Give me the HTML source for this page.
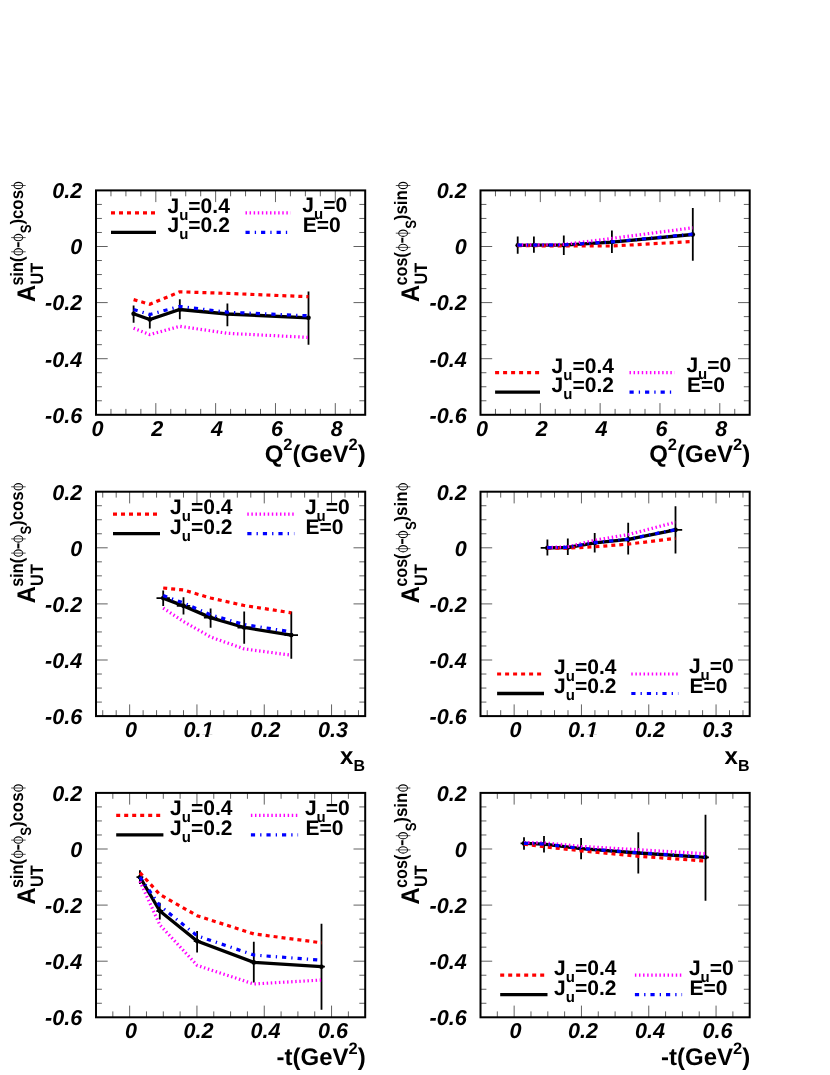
<!DOCTYPE html>
<html><head><meta charset="utf-8"><style>html,body{margin:0;padding:0;background:#fff}svg{display:block;will-change:transform}text{text-rendering:geometricPrecision}</style></head><body>
<svg width="830" height="1075" viewBox="0 0 830 1075">
<rect width="100%" height="100%" fill="#fff"/>
<g><path d="M110.96 414.80v-5.90 M110.96 190.40v5.90 M125.91 414.80v-5.90 M125.91 190.40v5.90 M140.87 414.80v-5.90 M140.87 190.40v5.90 M155.82 414.80v-11.70 M155.82 190.40v11.70 M170.78 414.80v-5.90 M170.78 190.40v5.90 M185.73 414.80v-5.90 M185.73 190.40v5.90 M200.69 414.80v-5.90 M200.69 190.40v5.90 M215.64 414.80v-11.70 M215.64 190.40v11.70 M230.60 414.80v-5.90 M230.60 190.40v5.90 M245.56 414.80v-5.90 M245.56 190.40v5.90 M260.51 414.80v-5.90 M260.51 190.40v5.90 M275.47 414.80v-11.70 M275.47 190.40v11.70 M290.42 414.80v-5.90 M290.42 190.40v5.90 M305.38 414.80v-5.90 M305.38 190.40v5.90 M320.33 414.80v-5.90 M320.33 190.40v5.90 M335.29 414.80v-11.70 M335.29 190.40v11.70 M350.24 414.80v-5.90 M350.24 190.40v5.90 M96.00 204.43h5.90 M365.20 204.43h-5.90 M96.00 218.45h5.90 M365.20 218.45h-5.90 M96.00 232.48h5.90 M365.20 232.48h-5.90 M96.00 246.50h11.70 M365.20 246.50h-11.70 M96.00 260.52h5.90 M365.20 260.52h-5.90 M96.00 274.55h5.90 M365.20 274.55h-5.90 M96.00 288.58h5.90 M365.20 288.58h-5.90 M96.00 302.60h11.70 M365.20 302.60h-11.70 M96.00 316.62h5.90 M365.20 316.62h-5.90 M96.00 330.65h5.90 M365.20 330.65h-5.90 M96.00 344.68h5.90 M365.20 344.68h-5.90 M96.00 358.70h11.70 M365.20 358.70h-11.70 M96.00 372.73h5.90 M365.20 372.73h-5.90 M96.00 386.75h5.90 M365.20 386.75h-5.90 M96.00 400.77h5.90 M365.20 400.77h-5.90" stroke="#000" stroke-opacity="0.62" stroke-width="1" fill="none"/>
<rect x="96.00" y="190.40" width="269.20" height="224.40" fill="none" stroke="#000" stroke-width="2"/>
<text x="82.2" y="198.2" font-family="Liberation Sans, sans-serif" font-size="21.6" font-weight="bold" font-style="italic" text-anchor="end">0.2</text>
<text x="82.2" y="254.3" font-family="Liberation Sans, sans-serif" font-size="21.6" font-weight="bold" font-style="italic" text-anchor="end">0</text>
<text x="82.2" y="310.4" font-family="Liberation Sans, sans-serif" font-size="21.6" font-weight="bold" font-style="italic" text-anchor="end">-0.2</text>
<text x="82.2" y="366.5" font-family="Liberation Sans, sans-serif" font-size="21.6" font-weight="bold" font-style="italic" text-anchor="end">-0.4</text>
<text x="82.2" y="422.6" font-family="Liberation Sans, sans-serif" font-size="21.6" font-weight="bold" font-style="italic" text-anchor="end">-0.6</text>
<text x="97.4" y="436.4" font-family="Liberation Sans, sans-serif" font-size="21.6" font-weight="bold" font-style="italic" text-anchor="middle">0</text>
<text x="157.2" y="436.4" font-family="Liberation Sans, sans-serif" font-size="21.6" font-weight="bold" font-style="italic" text-anchor="middle">2</text>
<text x="217.0" y="436.4" font-family="Liberation Sans, sans-serif" font-size="21.6" font-weight="bold" font-style="italic" text-anchor="middle">4</text>
<text x="276.9" y="436.4" font-family="Liberation Sans, sans-serif" font-size="21.6" font-weight="bold" font-style="italic" text-anchor="middle">6</text>
<text x="336.7" y="436.4" font-family="Liberation Sans, sans-serif" font-size="21.6" font-weight="bold" font-style="italic" text-anchor="middle">8</text>
<text x="365.7" y="462.0" font-family="Liberation Sans, sans-serif" font-size="24" font-weight="bold" text-anchor="end">Q<tspan font-size="16.5" dy="-11.8">2</tspan><tspan dy="11.8">(GeV</tspan><tspan font-size="16.5" dy="-11.8">2</tspan><tspan dy="11.8">)</tspan></text>
<text transform="translate(35.0 301.9) rotate(-90)" font-family="Liberation Sans, sans-serif" font-size="25.5" font-weight="bold" textLength="17.2" lengthAdjust="spacingAndGlyphs">A</text>
<text transform="translate(42.6 284.6) rotate(-90)" font-family="Liberation Sans, sans-serif" font-size="18" font-weight="bold" textLength="21.8" lengthAdjust="spacingAndGlyphs">UT</text>
<text transform="translate(22.7 285.4) rotate(-90)" font-family="Liberation Sans, sans-serif" font-size="18" font-weight="bold" textLength="28.8" lengthAdjust="spacingAndGlyphs">sin(</text>
<path fill-rule="evenodd" fill="#000" d="M13.55 251.80a4.85 3.75 0 1 0 9.7 0a4.85 3.75 0 1 0 -9.7 0ZM14.40 251.80a4.0 2.55 0 1 0 8.0 0a4.0 2.55 0 1 0 -8.0 0Z"/><path d="M11.1 251.8H25.7" stroke="#000" stroke-opacity="0.8" stroke-width="0.85"/>
<text transform="translate(22.7 247.9) rotate(-90)" font-family="Liberation Sans, sans-serif" font-size="18" font-weight="bold" textLength="6.6" lengthAdjust="spacingAndGlyphs">-</text>
<path fill-rule="evenodd" fill="#000" d="M13.55 237.60a4.85 3.75 0 1 0 9.7 0a4.85 3.75 0 1 0 -9.7 0ZM14.40 237.60a4.0 2.55 0 1 0 8.0 0a4.0 2.55 0 1 0 -8.0 0Z"/><path d="M11.1 237.6H25.7" stroke="#000" stroke-opacity="0.8" stroke-width="0.85"/>
<text transform="translate(31.3 233.2) rotate(-90)" font-family="Liberation Sans, sans-serif" font-size="15" font-weight="bold" textLength="8.8" lengthAdjust="spacingAndGlyphs">S</text>
<text transform="translate(22.7 224.6) rotate(-90)" font-family="Liberation Sans, sans-serif" font-size="18" font-weight="bold" textLength="34.6" lengthAdjust="spacingAndGlyphs">)cos</text>
<path fill-rule="evenodd" fill="#000" d="M13.55 185.50a4.85 3.75 0 1 0 9.7 0a4.85 3.75 0 1 0 -9.7 0ZM14.40 185.50a4.0 2.55 0 1 0 8.0 0a4.0 2.55 0 1 0 -8.0 0Z"/><path d="M11.1 185.5H25.7" stroke="#000" stroke-opacity="0.8" stroke-width="0.85"/>
<polyline points="111.0,212.9 156.0,212.9" fill="none" stroke="#ff0000" stroke-width="3.2" stroke-dasharray="4 4" stroke-linejoin="miter"/>
<polyline points="111.0,232.4 156.0,232.4" fill="none" stroke="#000" stroke-width="3.3" stroke-linejoin="miter"/>
<polyline points="245.5,212.9 290.6,212.9" fill="none" stroke="#ff00ff" stroke-width="3.2" stroke-dasharray="1.45 2.635" stroke-linejoin="miter"/>
<polyline points="245.5,232.4 290.6,232.4" fill="none" stroke="#0000ff" stroke-width="3.2" stroke-dasharray="4.2 5.05 1.3 5.0" stroke-linejoin="miter"/>
<text x="167.5" y="212.9" font-family="Liberation Sans, sans-serif" font-size="21" font-weight="bold">J<tspan font-size="15" dy="7">u</tspan><tspan dy="-7">=0.4</tspan></text>
<text x="167.5" y="232.2" font-family="Liberation Sans, sans-serif" font-size="21" font-weight="bold">J<tspan font-size="15" dy="7">u</tspan><tspan dy="-7">=0.2</tspan></text>
<text x="302.3" y="212.3" font-family="Liberation Sans, sans-serif" font-size="21" font-weight="bold">J<tspan font-size="15" dy="7">u</tspan><tspan dy="-7">=0</tspan></text>
<text x="302.8" y="232.2" font-family="Liberation Sans, sans-serif" font-size="21" font-weight="bold">E=0</text>
<path d="M133.6 305.4V322.7 M149.8 313.5V328.6 M179.8 299.3V319.2 M227.4 303.6V326.3 M308.5 291.5V344.8" stroke="#000" stroke-width="1.8" fill="none"/>
<circle cx="133.6" cy="313.7" r="2.3" fill="#000"/>
<circle cx="149.8" cy="319.5" r="2.3" fill="#000"/>
<circle cx="179.8" cy="309.5" r="2.3" fill="#000"/>
<circle cx="227.4" cy="314.0" r="2.3" fill="#000"/>
<circle cx="308.5" cy="317.8" r="2.3" fill="#000"/>
<polyline points="133.6,313.7 149.8,319.5 179.8,309.5 227.4,314.0 308.5,317.8" fill="none" stroke="#000" stroke-width="3.3" stroke-linejoin="miter"/>
<polyline points="133.6,299.6 149.8,304.3 179.8,291.8 227.4,293.4 308.5,296.7" fill="none" stroke="#ff0000" stroke-width="3.2" stroke-dasharray="4 4" stroke-linejoin="miter"/>
<polyline points="133.6,328.3 149.8,334.6 179.8,326.3 227.4,333.3 308.5,337.4" fill="none" stroke="#ff00ff" stroke-width="3.2" stroke-dasharray="1.45 2.635" stroke-linejoin="miter"/>
<polyline points="133.6,309.5 149.8,314.5 179.8,306.4 227.4,312.2 308.5,315.8" fill="none" stroke="#0000ff" stroke-width="3.2" stroke-dasharray="4.2 5.05 1.3 5.0" stroke-linejoin="miter"/></g>
<g><path d="M495.46 414.80v-5.90 M495.46 190.40v5.90 M510.41 414.80v-5.90 M510.41 190.40v5.90 M525.37 414.80v-5.90 M525.37 190.40v5.90 M540.32 414.80v-11.70 M540.32 190.40v11.70 M555.28 414.80v-5.90 M555.28 190.40v5.90 M570.23 414.80v-5.90 M570.23 190.40v5.90 M585.19 414.80v-5.90 M585.19 190.40v5.90 M600.14 414.80v-11.70 M600.14 190.40v11.70 M615.10 414.80v-5.90 M615.10 190.40v5.90 M630.06 414.80v-5.90 M630.06 190.40v5.90 M645.01 414.80v-5.90 M645.01 190.40v5.90 M659.97 414.80v-11.70 M659.97 190.40v11.70 M674.92 414.80v-5.90 M674.92 190.40v5.90 M689.88 414.80v-5.90 M689.88 190.40v5.90 M704.83 414.80v-5.90 M704.83 190.40v5.90 M719.79 414.80v-11.70 M719.79 190.40v11.70 M734.74 414.80v-5.90 M734.74 190.40v5.90 M480.50 204.43h5.90 M749.70 204.43h-5.90 M480.50 218.45h5.90 M749.70 218.45h-5.90 M480.50 232.48h5.90 M749.70 232.48h-5.90 M480.50 246.50h11.70 M749.70 246.50h-11.70 M480.50 260.52h5.90 M749.70 260.52h-5.90 M480.50 274.55h5.90 M749.70 274.55h-5.90 M480.50 288.58h5.90 M749.70 288.58h-5.90 M480.50 302.60h11.70 M749.70 302.60h-11.70 M480.50 316.62h5.90 M749.70 316.62h-5.90 M480.50 330.65h5.90 M749.70 330.65h-5.90 M480.50 344.68h5.90 M749.70 344.68h-5.90 M480.50 358.70h11.70 M749.70 358.70h-11.70 M480.50 372.73h5.90 M749.70 372.73h-5.90 M480.50 386.75h5.90 M749.70 386.75h-5.90 M480.50 400.77h5.90 M749.70 400.77h-5.90" stroke="#000" stroke-opacity="0.62" stroke-width="1" fill="none"/>
<rect x="480.50" y="190.40" width="269.20" height="224.40" fill="none" stroke="#000" stroke-width="2"/>
<text x="466.7" y="198.2" font-family="Liberation Sans, sans-serif" font-size="21.6" font-weight="bold" font-style="italic" text-anchor="end">0.2</text>
<text x="466.7" y="254.3" font-family="Liberation Sans, sans-serif" font-size="21.6" font-weight="bold" font-style="italic" text-anchor="end">0</text>
<text x="466.7" y="310.4" font-family="Liberation Sans, sans-serif" font-size="21.6" font-weight="bold" font-style="italic" text-anchor="end">-0.2</text>
<text x="466.7" y="366.5" font-family="Liberation Sans, sans-serif" font-size="21.6" font-weight="bold" font-style="italic" text-anchor="end">-0.4</text>
<text x="466.7" y="422.6" font-family="Liberation Sans, sans-serif" font-size="21.6" font-weight="bold" font-style="italic" text-anchor="end">-0.6</text>
<text x="481.9" y="436.4" font-family="Liberation Sans, sans-serif" font-size="21.6" font-weight="bold" font-style="italic" text-anchor="middle">0</text>
<text x="541.7" y="436.4" font-family="Liberation Sans, sans-serif" font-size="21.6" font-weight="bold" font-style="italic" text-anchor="middle">2</text>
<text x="601.5" y="436.4" font-family="Liberation Sans, sans-serif" font-size="21.6" font-weight="bold" font-style="italic" text-anchor="middle">4</text>
<text x="661.4" y="436.4" font-family="Liberation Sans, sans-serif" font-size="21.6" font-weight="bold" font-style="italic" text-anchor="middle">6</text>
<text x="721.2" y="436.4" font-family="Liberation Sans, sans-serif" font-size="21.6" font-weight="bold" font-style="italic" text-anchor="middle">8</text>
<text x="750.2" y="462.0" font-family="Liberation Sans, sans-serif" font-size="24" font-weight="bold" text-anchor="end">Q<tspan font-size="16.5" dy="-11.8">2</tspan><tspan dy="11.8">(GeV</tspan><tspan font-size="16.5" dy="-11.8">2</tspan><tspan dy="11.8">)</tspan></text>
<text transform="translate(419.2 301.9) rotate(-90)" font-family="Liberation Sans, sans-serif" font-size="25.5" font-weight="bold" textLength="17.2" lengthAdjust="spacingAndGlyphs">A</text>
<text transform="translate(426.8 284.6) rotate(-90)" font-family="Liberation Sans, sans-serif" font-size="18" font-weight="bold" textLength="21.8" lengthAdjust="spacingAndGlyphs">UT</text>
<text transform="translate(407.4 285.4) rotate(-90)" font-family="Liberation Sans, sans-serif" font-size="18" font-weight="bold" textLength="33.2" lengthAdjust="spacingAndGlyphs">cos(</text>
<path fill-rule="evenodd" fill="#000" d="M398.25 247.40a4.85 3.75 0 1 0 9.7 0a4.85 3.75 0 1 0 -9.7 0ZM399.10 247.40a4.0 2.55 0 1 0 8.0 0a4.0 2.55 0 1 0 -8.0 0Z"/><path d="M395.8 247.4H410.4" stroke="#000" stroke-opacity="0.8" stroke-width="0.85"/>
<text transform="translate(407.4 243.5) rotate(-90)" font-family="Liberation Sans, sans-serif" font-size="18" font-weight="bold" textLength="6.6" lengthAdjust="spacingAndGlyphs">-</text>
<path fill-rule="evenodd" fill="#000" d="M398.25 233.20a4.85 3.75 0 1 0 9.7 0a4.85 3.75 0 1 0 -9.7 0ZM399.10 233.20a4.0 2.55 0 1 0 8.0 0a4.0 2.55 0 1 0 -8.0 0Z"/><path d="M395.8 233.2H410.4" stroke="#000" stroke-opacity="0.8" stroke-width="0.85"/>
<text transform="translate(416.0 228.8) rotate(-90)" font-family="Liberation Sans, sans-serif" font-size="15" font-weight="bold" textLength="8.8" lengthAdjust="spacingAndGlyphs">S</text>
<text transform="translate(407.4 220.2) rotate(-90)" font-family="Liberation Sans, sans-serif" font-size="18" font-weight="bold" textLength="30.0" lengthAdjust="spacingAndGlyphs">)sin</text>
<path fill-rule="evenodd" fill="#000" d="M398.25 185.50a4.85 3.75 0 1 0 9.7 0a4.85 3.75 0 1 0 -9.7 0ZM399.10 185.50a4.0 2.55 0 1 0 8.0 0a4.0 2.55 0 1 0 -8.0 0Z"/><path d="M395.8 185.5H410.4" stroke="#000" stroke-opacity="0.8" stroke-width="0.85"/>
<polyline points="495.1,372.7 540.0,372.7" fill="none" stroke="#ff0000" stroke-width="3.2" stroke-dasharray="4 4" stroke-linejoin="miter"/>
<polyline points="495.1,392.2 540.0,392.2" fill="none" stroke="#000" stroke-width="3.3" stroke-linejoin="miter"/>
<polyline points="629.5,372.7 674.6,372.7" fill="none" stroke="#ff00ff" stroke-width="3.2" stroke-dasharray="1.45 2.635" stroke-linejoin="miter"/>
<polyline points="629.5,392.2 674.6,392.2" fill="none" stroke="#0000ff" stroke-width="3.2" stroke-dasharray="4.2 5.05 1.3 5.0" stroke-linejoin="miter"/>
<text x="551.6" y="372.7" font-family="Liberation Sans, sans-serif" font-size="21" font-weight="bold">J<tspan font-size="15" dy="7">u</tspan><tspan dy="-7">=0.4</tspan></text>
<text x="551.6" y="392.0" font-family="Liberation Sans, sans-serif" font-size="21" font-weight="bold">J<tspan font-size="15" dy="7">u</tspan><tspan dy="-7">=0.2</tspan></text>
<text x="686.4" y="372.1" font-family="Liberation Sans, sans-serif" font-size="21" font-weight="bold">J<tspan font-size="15" dy="7">u</tspan><tspan dy="-7">=0</tspan></text>
<text x="686.9" y="392.0" font-family="Liberation Sans, sans-serif" font-size="21" font-weight="bold">E=0</text>
<path d="M517.7 236.4V253.7 M533.9 236.4V252.7 M563.8 235.4V254.9 M611.9 230.5V253.0 M692.8 208.0V260.7" stroke="#000" stroke-width="1.8" fill="none"/>
<circle cx="517.7" cy="245.3" r="2.3" fill="#000"/>
<circle cx="533.9" cy="245.2" r="2.3" fill="#000"/>
<circle cx="563.8" cy="245.2" r="2.3" fill="#000"/>
<circle cx="611.9" cy="242.1" r="2.3" fill="#000"/>
<circle cx="692.8" cy="234.5" r="2.3" fill="#000"/>
<polyline points="517.7,245.3 533.9,245.2 563.8,245.2 611.9,242.1 692.8,234.5" fill="none" stroke="#000" stroke-width="3.3" stroke-linejoin="miter"/>
<polyline points="517.7,245.7 533.9,245.7 563.8,246.0 611.9,246.0 692.8,241.5" fill="none" stroke="#ff0000" stroke-width="3.2" stroke-dasharray="4 4" stroke-linejoin="miter"/>
<polyline points="517.7,245.0 533.9,244.9 563.8,244.4 611.9,238.4 692.8,227.8" fill="none" stroke="#ff00ff" stroke-width="3.2" stroke-dasharray="1.45 2.635" stroke-linejoin="miter"/>
<polyline points="517.7,245.2 533.9,245.1 563.8,245.0 611.9,241.9 692.8,234.1" fill="none" stroke="#0000ff" stroke-width="3.2" stroke-dasharray="4.2 5.05 1.3 5.0" stroke-linejoin="miter"/></g>
<g><path d="M102.73 716.10v-5.90 M102.73 491.70v5.90 M116.19 716.10v-5.90 M116.19 491.70v5.90 M129.65 716.10v-11.70 M129.65 491.70v11.70 M143.11 716.10v-5.90 M143.11 491.70v5.90 M156.57 716.10v-5.90 M156.57 491.70v5.90 M170.03 716.10v-5.90 M170.03 491.70v5.90 M183.49 716.10v-5.90 M183.49 491.70v5.90 M196.95 716.10v-11.70 M196.95 491.70v11.70 M210.41 716.10v-5.90 M210.41 491.70v5.90 M223.87 716.10v-5.90 M223.87 491.70v5.90 M237.33 716.10v-5.90 M237.33 491.70v5.90 M250.79 716.10v-5.90 M250.79 491.70v5.90 M264.25 716.10v-11.70 M264.25 491.70v11.70 M277.71 716.10v-5.90 M277.71 491.70v5.90 M291.17 716.10v-5.90 M291.17 491.70v5.90 M304.63 716.10v-5.90 M304.63 491.70v5.90 M318.09 716.10v-5.90 M318.09 491.70v5.90 M331.55 716.10v-11.70 M331.55 491.70v11.70 M345.01 716.10v-5.90 M345.01 491.70v5.90 M358.47 716.10v-5.90 M358.47 491.70v5.90 M96.00 505.72h5.90 M365.20 505.72h-5.90 M96.00 519.75h5.90 M365.20 519.75h-5.90 M96.00 533.77h5.90 M365.20 533.77h-5.90 M96.00 547.80h11.70 M365.20 547.80h-11.70 M96.00 561.83h5.90 M365.20 561.83h-5.90 M96.00 575.85h5.90 M365.20 575.85h-5.90 M96.00 589.88h5.90 M365.20 589.88h-5.90 M96.00 603.90h11.70 M365.20 603.90h-11.70 M96.00 617.92h5.90 M365.20 617.92h-5.90 M96.00 631.95h5.90 M365.20 631.95h-5.90 M96.00 645.98h5.90 M365.20 645.98h-5.90 M96.00 660.00h11.70 M365.20 660.00h-11.70 M96.00 674.02h5.90 M365.20 674.02h-5.90 M96.00 688.05h5.90 M365.20 688.05h-5.90 M96.00 702.08h5.90 M365.20 702.08h-5.90" stroke="#000" stroke-opacity="0.62" stroke-width="1" fill="none"/>
<rect x="96.00" y="491.70" width="269.20" height="224.40" fill="none" stroke="#000" stroke-width="2"/>
<text x="82.2" y="499.5" font-family="Liberation Sans, sans-serif" font-size="21.6" font-weight="bold" font-style="italic" text-anchor="end">0.2</text>
<text x="82.2" y="555.6" font-family="Liberation Sans, sans-serif" font-size="21.6" font-weight="bold" font-style="italic" text-anchor="end">0</text>
<text x="82.2" y="611.7" font-family="Liberation Sans, sans-serif" font-size="21.6" font-weight="bold" font-style="italic" text-anchor="end">-0.2</text>
<text x="82.2" y="667.8" font-family="Liberation Sans, sans-serif" font-size="21.6" font-weight="bold" font-style="italic" text-anchor="end">-0.4</text>
<text x="82.2" y="723.9" font-family="Liberation Sans, sans-serif" font-size="21.6" font-weight="bold" font-style="italic" text-anchor="end">-0.6</text>
<text x="131.1" y="737.3" font-family="Liberation Sans, sans-serif" font-size="21.6" font-weight="bold" font-style="italic" text-anchor="middle">0</text>
<text x="198.4" y="737.3" font-family="Liberation Sans, sans-serif" font-size="21.6" font-weight="bold" font-style="italic" text-anchor="middle">0.1</text>
<text x="265.6" y="737.3" font-family="Liberation Sans, sans-serif" font-size="21.6" font-weight="bold" font-style="italic" text-anchor="middle">0.2</text>
<text x="332.9" y="737.3" font-family="Liberation Sans, sans-serif" font-size="21.6" font-weight="bold" font-style="italic" text-anchor="middle">0.3</text>
<rect x="201.35" y="734.30" width="3.8" height="3.8" fill="#fff"/>
<rect x="208.55" y="734.30" width="4.6" height="3.8" fill="#fff"/>
<text x="365.0" y="763.8" font-family="Liberation Sans, sans-serif" font-size="24" font-weight="bold" text-anchor="end">x<tspan font-size="16" dy="6.9">B</tspan></text>
<text transform="translate(35.0 603.2) rotate(-90)" font-family="Liberation Sans, sans-serif" font-size="25.5" font-weight="bold" textLength="17.2" lengthAdjust="spacingAndGlyphs">A</text>
<text transform="translate(42.6 585.9) rotate(-90)" font-family="Liberation Sans, sans-serif" font-size="18" font-weight="bold" textLength="21.8" lengthAdjust="spacingAndGlyphs">UT</text>
<text transform="translate(22.7 586.7) rotate(-90)" font-family="Liberation Sans, sans-serif" font-size="18" font-weight="bold" textLength="28.8" lengthAdjust="spacingAndGlyphs">sin(</text>
<path fill-rule="evenodd" fill="#000" d="M13.55 553.10a4.85 3.75 0 1 0 9.7 0a4.85 3.75 0 1 0 -9.7 0ZM14.40 553.10a4.0 2.55 0 1 0 8.0 0a4.0 2.55 0 1 0 -8.0 0Z"/><path d="M11.1 553.1H25.7" stroke="#000" stroke-opacity="0.8" stroke-width="0.85"/>
<text transform="translate(22.7 549.2) rotate(-90)" font-family="Liberation Sans, sans-serif" font-size="18" font-weight="bold" textLength="6.6" lengthAdjust="spacingAndGlyphs">-</text>
<path fill-rule="evenodd" fill="#000" d="M13.55 538.90a4.85 3.75 0 1 0 9.7 0a4.85 3.75 0 1 0 -9.7 0ZM14.40 538.90a4.0 2.55 0 1 0 8.0 0a4.0 2.55 0 1 0 -8.0 0Z"/><path d="M11.1 538.9H25.7" stroke="#000" stroke-opacity="0.8" stroke-width="0.85"/>
<text transform="translate(31.3 534.5) rotate(-90)" font-family="Liberation Sans, sans-serif" font-size="15" font-weight="bold" textLength="8.8" lengthAdjust="spacingAndGlyphs">S</text>
<text transform="translate(22.7 525.9) rotate(-90)" font-family="Liberation Sans, sans-serif" font-size="18" font-weight="bold" textLength="34.6" lengthAdjust="spacingAndGlyphs">)cos</text>
<path fill-rule="evenodd" fill="#000" d="M13.55 486.80a4.85 3.75 0 1 0 9.7 0a4.85 3.75 0 1 0 -9.7 0ZM14.40 486.80a4.0 2.55 0 1 0 8.0 0a4.0 2.55 0 1 0 -8.0 0Z"/><path d="M11.1 486.8H25.7" stroke="#000" stroke-opacity="0.8" stroke-width="0.85"/>
<polyline points="113.0,514.2 160.0,514.2" fill="none" stroke="#ff0000" stroke-width="3.2" stroke-dasharray="4 4" stroke-linejoin="miter"/>
<polyline points="113.0,533.7 160.0,533.7" fill="none" stroke="#000" stroke-width="3.3" stroke-linejoin="miter"/>
<polyline points="247.3,514.2 294.3,514.2" fill="none" stroke="#ff00ff" stroke-width="3.2" stroke-dasharray="1.45 2.635" stroke-linejoin="miter"/>
<polyline points="247.3,533.7 294.3,533.7" fill="none" stroke="#0000ff" stroke-width="3.2" stroke-dasharray="4.2 5.05 1.3 5.0" stroke-linejoin="miter"/>
<text x="170.1" y="514.2" font-family="Liberation Sans, sans-serif" font-size="21" font-weight="bold">J<tspan font-size="15" dy="7">u</tspan><tspan dy="-7">=0.4</tspan></text>
<text x="170.1" y="533.5" font-family="Liberation Sans, sans-serif" font-size="21" font-weight="bold">J<tspan font-size="15" dy="7">u</tspan><tspan dy="-7">=0.2</tspan></text>
<text x="304.9" y="513.6" font-family="Liberation Sans, sans-serif" font-size="21" font-weight="bold">J<tspan font-size="15" dy="7">u</tspan><tspan dy="-7">=0</tspan></text>
<text x="305.4" y="533.5" font-family="Liberation Sans, sans-serif" font-size="21" font-weight="bold">E=0</text>
<path d="M163.2 590.5V605.9 M156.5 598.1H169.9 M183.5 597.2V614.6 M176.8 605.9H190.2 M210.6 608.6V627.8 M203.9 617.6H217.3 M244.2 611.5V643.8 M237.5 627.5H250.9 M291.3 611.5V658.8 M284.6 635.1H298.0" stroke="#000" stroke-width="1.8" fill="none"/>
<circle cx="163.2" cy="598.1" r="2.3" fill="#000"/>
<circle cx="183.5" cy="605.9" r="2.3" fill="#000"/>
<circle cx="210.6" cy="617.6" r="2.3" fill="#000"/>
<circle cx="244.2" cy="627.5" r="2.3" fill="#000"/>
<circle cx="291.3" cy="635.1" r="2.3" fill="#000"/>
<polyline points="163.2,598.1 183.5,605.9 210.6,617.6 244.2,627.5 291.3,635.1" fill="none" stroke="#000" stroke-width="3.3" stroke-linejoin="miter"/>
<polyline points="163.2,588.0 183.5,590.0 210.6,598.0 244.2,605.5 291.3,612.8" fill="none" stroke="#ff0000" stroke-width="3.2" stroke-dasharray="4 4" stroke-linejoin="miter"/>
<polyline points="163.2,608.1 183.5,621.5 210.6,637.0 244.2,648.9 291.3,655.2" fill="none" stroke="#ff00ff" stroke-width="3.2" stroke-dasharray="1.45 2.635" stroke-linejoin="miter"/>
<polyline points="163.2,595.6 183.5,603.0 210.6,614.8 244.2,624.5 291.3,631.9" fill="none" stroke="#0000ff" stroke-width="3.2" stroke-dasharray="4.2 5.05 1.3 5.0" stroke-linejoin="miter"/></g>
<g><path d="M487.23 716.10v-5.90 M487.23 491.70v5.90 M500.69 716.10v-5.90 M500.69 491.70v5.90 M514.15 716.10v-11.70 M514.15 491.70v11.70 M527.61 716.10v-5.90 M527.61 491.70v5.90 M541.07 716.10v-5.90 M541.07 491.70v5.90 M554.53 716.10v-5.90 M554.53 491.70v5.90 M567.99 716.10v-5.90 M567.99 491.70v5.90 M581.45 716.10v-11.70 M581.45 491.70v11.70 M594.91 716.10v-5.90 M594.91 491.70v5.90 M608.37 716.10v-5.90 M608.37 491.70v5.90 M621.83 716.10v-5.90 M621.83 491.70v5.90 M635.29 716.10v-5.90 M635.29 491.70v5.90 M648.75 716.10v-11.70 M648.75 491.70v11.70 M662.21 716.10v-5.90 M662.21 491.70v5.90 M675.67 716.10v-5.90 M675.67 491.70v5.90 M689.13 716.10v-5.90 M689.13 491.70v5.90 M702.59 716.10v-5.90 M702.59 491.70v5.90 M716.05 716.10v-11.70 M716.05 491.70v11.70 M729.51 716.10v-5.90 M729.51 491.70v5.90 M742.97 716.10v-5.90 M742.97 491.70v5.90 M480.50 505.72h5.90 M749.70 505.72h-5.90 M480.50 519.75h5.90 M749.70 519.75h-5.90 M480.50 533.77h5.90 M749.70 533.77h-5.90 M480.50 547.80h11.70 M749.70 547.80h-11.70 M480.50 561.83h5.90 M749.70 561.83h-5.90 M480.50 575.85h5.90 M749.70 575.85h-5.90 M480.50 589.88h5.90 M749.70 589.88h-5.90 M480.50 603.90h11.70 M749.70 603.90h-11.70 M480.50 617.92h5.90 M749.70 617.92h-5.90 M480.50 631.95h5.90 M749.70 631.95h-5.90 M480.50 645.98h5.90 M749.70 645.98h-5.90 M480.50 660.00h11.70 M749.70 660.00h-11.70 M480.50 674.02h5.90 M749.70 674.02h-5.90 M480.50 688.05h5.90 M749.70 688.05h-5.90 M480.50 702.08h5.90 M749.70 702.08h-5.90" stroke="#000" stroke-opacity="0.62" stroke-width="1" fill="none"/>
<rect x="480.50" y="491.70" width="269.20" height="224.40" fill="none" stroke="#000" stroke-width="2"/>
<text x="466.7" y="499.5" font-family="Liberation Sans, sans-serif" font-size="21.6" font-weight="bold" font-style="italic" text-anchor="end">0.2</text>
<text x="466.7" y="555.6" font-family="Liberation Sans, sans-serif" font-size="21.6" font-weight="bold" font-style="italic" text-anchor="end">0</text>
<text x="466.7" y="611.7" font-family="Liberation Sans, sans-serif" font-size="21.6" font-weight="bold" font-style="italic" text-anchor="end">-0.2</text>
<text x="466.7" y="667.8" font-family="Liberation Sans, sans-serif" font-size="21.6" font-weight="bold" font-style="italic" text-anchor="end">-0.4</text>
<text x="466.7" y="723.9" font-family="Liberation Sans, sans-serif" font-size="21.6" font-weight="bold" font-style="italic" text-anchor="end">-0.6</text>
<text x="515.5" y="737.3" font-family="Liberation Sans, sans-serif" font-size="21.6" font-weight="bold" font-style="italic" text-anchor="middle">0</text>
<text x="582.9" y="737.3" font-family="Liberation Sans, sans-serif" font-size="21.6" font-weight="bold" font-style="italic" text-anchor="middle">0.1</text>
<text x="650.1" y="737.3" font-family="Liberation Sans, sans-serif" font-size="21.6" font-weight="bold" font-style="italic" text-anchor="middle">0.2</text>
<text x="717.4" y="737.3" font-family="Liberation Sans, sans-serif" font-size="21.6" font-weight="bold" font-style="italic" text-anchor="middle">0.3</text>
<rect x="585.85" y="734.30" width="3.8" height="3.8" fill="#fff"/>
<rect x="593.05" y="734.30" width="4.6" height="3.8" fill="#fff"/>
<text x="749.5" y="763.8" font-family="Liberation Sans, sans-serif" font-size="24" font-weight="bold" text-anchor="end">x<tspan font-size="16" dy="6.9">B</tspan></text>
<text transform="translate(419.2 603.2) rotate(-90)" font-family="Liberation Sans, sans-serif" font-size="25.5" font-weight="bold" textLength="17.2" lengthAdjust="spacingAndGlyphs">A</text>
<text transform="translate(426.8 585.9) rotate(-90)" font-family="Liberation Sans, sans-serif" font-size="18" font-weight="bold" textLength="21.8" lengthAdjust="spacingAndGlyphs">UT</text>
<text transform="translate(407.4 586.7) rotate(-90)" font-family="Liberation Sans, sans-serif" font-size="18" font-weight="bold" textLength="33.2" lengthAdjust="spacingAndGlyphs">cos(</text>
<path fill-rule="evenodd" fill="#000" d="M398.25 548.70a4.85 3.75 0 1 0 9.7 0a4.85 3.75 0 1 0 -9.7 0ZM399.10 548.70a4.0 2.55 0 1 0 8.0 0a4.0 2.55 0 1 0 -8.0 0Z"/><path d="M395.8 548.7H410.4" stroke="#000" stroke-opacity="0.8" stroke-width="0.85"/>
<text transform="translate(407.4 544.8) rotate(-90)" font-family="Liberation Sans, sans-serif" font-size="18" font-weight="bold" textLength="6.6" lengthAdjust="spacingAndGlyphs">-</text>
<path fill-rule="evenodd" fill="#000" d="M398.25 534.50a4.85 3.75 0 1 0 9.7 0a4.85 3.75 0 1 0 -9.7 0ZM399.10 534.50a4.0 2.55 0 1 0 8.0 0a4.0 2.55 0 1 0 -8.0 0Z"/><path d="M395.8 534.5H410.4" stroke="#000" stroke-opacity="0.8" stroke-width="0.85"/>
<text transform="translate(416.0 530.1) rotate(-90)" font-family="Liberation Sans, sans-serif" font-size="15" font-weight="bold" textLength="8.8" lengthAdjust="spacingAndGlyphs">S</text>
<text transform="translate(407.4 521.5) rotate(-90)" font-family="Liberation Sans, sans-serif" font-size="18" font-weight="bold" textLength="30.0" lengthAdjust="spacingAndGlyphs">)sin</text>
<path fill-rule="evenodd" fill="#000" d="M398.25 486.80a4.85 3.75 0 1 0 9.7 0a4.85 3.75 0 1 0 -9.7 0ZM399.10 486.80a4.0 2.55 0 1 0 8.0 0a4.0 2.55 0 1 0 -8.0 0Z"/><path d="M395.8 486.8H410.4" stroke="#000" stroke-opacity="0.8" stroke-width="0.85"/>
<polyline points="497.1,674.0 544.0,674.0" fill="none" stroke="#ff0000" stroke-width="3.2" stroke-dasharray="4 4" stroke-linejoin="miter"/>
<polyline points="497.1,693.5 544.0,693.5" fill="none" stroke="#000" stroke-width="3.3" stroke-linejoin="miter"/>
<polyline points="631.3,674.0 678.3,674.0" fill="none" stroke="#ff00ff" stroke-width="3.2" stroke-dasharray="1.45 2.635" stroke-linejoin="miter"/>
<polyline points="631.3,693.5 678.3,693.5" fill="none" stroke="#0000ff" stroke-width="3.2" stroke-dasharray="4.2 5.05 1.3 5.0" stroke-linejoin="miter"/>
<text x="554.1" y="674.0" font-family="Liberation Sans, sans-serif" font-size="21" font-weight="bold">J<tspan font-size="15" dy="7">u</tspan><tspan dy="-7">=0.4</tspan></text>
<text x="554.1" y="693.3" font-family="Liberation Sans, sans-serif" font-size="21" font-weight="bold">J<tspan font-size="15" dy="7">u</tspan><tspan dy="-7">=0.2</tspan></text>
<text x="688.9" y="673.4" font-family="Liberation Sans, sans-serif" font-size="21" font-weight="bold">J<tspan font-size="15" dy="7">u</tspan><tspan dy="-7">=0</tspan></text>
<text x="689.4" y="693.3" font-family="Liberation Sans, sans-serif" font-size="21" font-weight="bold">E=0</text>
<path d="M547.4 539.5V555.4 M540.7 547.9H554.1 M567.8 538.4V555.0 M561.1 547.5H574.5 M594.7 533.1V552.4 M588.0 542.9H601.4 M628.2 522.8V554.6 M621.5 539.4H634.9 M675.5 506.2V553.4 M668.8 529.9H682.2" stroke="#000" stroke-width="1.8" fill="none"/>
<circle cx="547.4" cy="547.9" r="2.3" fill="#000"/>
<circle cx="567.8" cy="547.5" r="2.3" fill="#000"/>
<circle cx="594.7" cy="542.9" r="2.3" fill="#000"/>
<circle cx="628.2" cy="539.4" r="2.3" fill="#000"/>
<circle cx="675.5" cy="529.9" r="2.3" fill="#000"/>
<polyline points="547.4,547.9 567.8,547.5 594.7,542.9 628.2,539.4 675.5,529.9" fill="none" stroke="#000" stroke-width="3.3" stroke-linejoin="miter"/>
<polyline points="547.4,548.1 567.8,548.1 594.7,546.8 628.2,544.1 675.5,538.4" fill="none" stroke="#ff0000" stroke-width="3.2" stroke-dasharray="4 4" stroke-linejoin="miter"/>
<polyline points="547.4,547.4 567.8,546.8 594.7,540.2 628.2,534.6 675.5,522.2" fill="none" stroke="#ff00ff" stroke-width="3.2" stroke-dasharray="1.45 2.635" stroke-linejoin="miter"/>
<polyline points="547.4,547.7 567.8,547.3 594.7,542.7 628.2,539.2 675.5,529.6" fill="none" stroke="#0000ff" stroke-width="3.2" stroke-dasharray="4.2 5.05 1.3 5.0" stroke-linejoin="miter"/></g>
<g><path d="M112.83 1017.30v-5.90 M112.83 792.90v5.90 M129.65 1017.30v-11.70 M129.65 792.90v11.70 M146.48 1017.30v-5.90 M146.48 792.90v5.90 M163.30 1017.30v-5.90 M163.30 792.90v5.90 M180.12 1017.30v-5.90 M180.12 792.90v5.90 M196.95 1017.30v-11.70 M196.95 792.90v11.70 M213.77 1017.30v-5.90 M213.77 792.90v5.90 M230.60 1017.30v-5.90 M230.60 792.90v5.90 M247.43 1017.30v-5.90 M247.43 792.90v5.90 M264.25 1017.30v-11.70 M264.25 792.90v11.70 M281.08 1017.30v-5.90 M281.08 792.90v5.90 M297.90 1017.30v-5.90 M297.90 792.90v5.90 M314.73 1017.30v-5.90 M314.73 792.90v5.90 M331.55 1017.30v-11.70 M331.55 792.90v11.70 M348.38 1017.30v-5.90 M348.38 792.90v5.90 M96.00 806.92h5.90 M365.20 806.92h-5.90 M96.00 820.95h5.90 M365.20 820.95h-5.90 M96.00 834.98h5.90 M365.20 834.98h-5.90 M96.00 849.00h11.70 M365.20 849.00h-11.70 M96.00 863.02h5.90 M365.20 863.02h-5.90 M96.00 877.05h5.90 M365.20 877.05h-5.90 M96.00 891.08h5.90 M365.20 891.08h-5.90 M96.00 905.10h11.70 M365.20 905.10h-11.70 M96.00 919.12h5.90 M365.20 919.12h-5.90 M96.00 933.15h5.90 M365.20 933.15h-5.90 M96.00 947.17h5.90 M365.20 947.17h-5.90 M96.00 961.20h11.70 M365.20 961.20h-11.70 M96.00 975.23h5.90 M365.20 975.23h-5.90 M96.00 989.25h5.90 M365.20 989.25h-5.90 M96.00 1003.27h5.90 M365.20 1003.27h-5.90" stroke="#000" stroke-opacity="0.62" stroke-width="1" fill="none"/>
<rect x="96.00" y="792.90" width="269.20" height="224.40" fill="none" stroke="#000" stroke-width="2"/>
<text x="82.2" y="800.7" font-family="Liberation Sans, sans-serif" font-size="21.6" font-weight="bold" font-style="italic" text-anchor="end">0.2</text>
<text x="82.2" y="856.8" font-family="Liberation Sans, sans-serif" font-size="21.6" font-weight="bold" font-style="italic" text-anchor="end">0</text>
<text x="82.2" y="912.9" font-family="Liberation Sans, sans-serif" font-size="21.6" font-weight="bold" font-style="italic" text-anchor="end">-0.2</text>
<text x="82.2" y="969.0" font-family="Liberation Sans, sans-serif" font-size="21.6" font-weight="bold" font-style="italic" text-anchor="end">-0.4</text>
<text x="82.2" y="1025.1" font-family="Liberation Sans, sans-serif" font-size="21.6" font-weight="bold" font-style="italic" text-anchor="end">-0.6</text>
<text x="131.1" y="1038.4" font-family="Liberation Sans, sans-serif" font-size="21.6" font-weight="bold" font-style="italic" text-anchor="middle">0</text>
<text x="198.4" y="1038.4" font-family="Liberation Sans, sans-serif" font-size="21.6" font-weight="bold" font-style="italic" text-anchor="middle">0.2</text>
<text x="265.6" y="1038.4" font-family="Liberation Sans, sans-serif" font-size="21.6" font-weight="bold" font-style="italic" text-anchor="middle">0.4</text>
<text x="332.9" y="1038.4" font-family="Liberation Sans, sans-serif" font-size="21.6" font-weight="bold" font-style="italic" text-anchor="middle">0.6</text>
<text x="365.7" y="1065.3" font-family="Liberation Sans, sans-serif" font-size="24" font-weight="bold" text-anchor="end">-t(GeV<tspan font-size="16.5" dy="-11.8">2</tspan><tspan dy="11.8">)</tspan></text>
<text transform="translate(35.0 904.4) rotate(-90)" font-family="Liberation Sans, sans-serif" font-size="25.5" font-weight="bold" textLength="17.2" lengthAdjust="spacingAndGlyphs">A</text>
<text transform="translate(42.6 887.1) rotate(-90)" font-family="Liberation Sans, sans-serif" font-size="18" font-weight="bold" textLength="21.8" lengthAdjust="spacingAndGlyphs">UT</text>
<text transform="translate(22.7 887.9) rotate(-90)" font-family="Liberation Sans, sans-serif" font-size="18" font-weight="bold" textLength="28.8" lengthAdjust="spacingAndGlyphs">sin(</text>
<path fill-rule="evenodd" fill="#000" d="M13.55 854.30a4.85 3.75 0 1 0 9.7 0a4.85 3.75 0 1 0 -9.7 0ZM14.40 854.30a4.0 2.55 0 1 0 8.0 0a4.0 2.55 0 1 0 -8.0 0Z"/><path d="M11.1 854.3H25.7" stroke="#000" stroke-opacity="0.8" stroke-width="0.85"/>
<text transform="translate(22.7 850.4) rotate(-90)" font-family="Liberation Sans, sans-serif" font-size="18" font-weight="bold" textLength="6.6" lengthAdjust="spacingAndGlyphs">-</text>
<path fill-rule="evenodd" fill="#000" d="M13.55 840.10a4.85 3.75 0 1 0 9.7 0a4.85 3.75 0 1 0 -9.7 0ZM14.40 840.10a4.0 2.55 0 1 0 8.0 0a4.0 2.55 0 1 0 -8.0 0Z"/><path d="M11.1 840.1H25.7" stroke="#000" stroke-opacity="0.8" stroke-width="0.85"/>
<text transform="translate(31.3 835.7) rotate(-90)" font-family="Liberation Sans, sans-serif" font-size="15" font-weight="bold" textLength="8.8" lengthAdjust="spacingAndGlyphs">S</text>
<text transform="translate(22.7 827.1) rotate(-90)" font-family="Liberation Sans, sans-serif" font-size="18" font-weight="bold" textLength="34.6" lengthAdjust="spacingAndGlyphs">)cos</text>
<path fill-rule="evenodd" fill="#000" d="M13.55 788.00a4.85 3.75 0 1 0 9.7 0a4.85 3.75 0 1 0 -9.7 0ZM14.40 788.00a4.0 2.55 0 1 0 8.0 0a4.0 2.55 0 1 0 -8.0 0Z"/><path d="M11.1 788.0H25.7" stroke="#000" stroke-opacity="0.8" stroke-width="0.85"/>
<polyline points="116.2,815.4 163.4,815.4" fill="none" stroke="#ff0000" stroke-width="3.2" stroke-dasharray="4 4" stroke-linejoin="miter"/>
<polyline points="116.2,834.9 163.4,834.9" fill="none" stroke="#000" stroke-width="3.3" stroke-linejoin="miter"/>
<polyline points="250.9,815.4 298.1,815.4" fill="none" stroke="#ff00ff" stroke-width="3.2" stroke-dasharray="1.45 2.635" stroke-linejoin="miter"/>
<polyline points="250.9,834.9 298.1,834.9" fill="none" stroke="#0000ff" stroke-width="3.2" stroke-dasharray="4.2 5.05 1.3 5.0" stroke-linejoin="miter"/>
<text x="170.1" y="815.4" font-family="Liberation Sans, sans-serif" font-size="21" font-weight="bold">J<tspan font-size="15" dy="7">u</tspan><tspan dy="-7">=0.4</tspan></text>
<text x="170.1" y="834.7" font-family="Liberation Sans, sans-serif" font-size="21" font-weight="bold">J<tspan font-size="15" dy="7">u</tspan><tspan dy="-7">=0.2</tspan></text>
<text x="304.9" y="814.8" font-family="Liberation Sans, sans-serif" font-size="21" font-weight="bold">J<tspan font-size="15" dy="7">u</tspan><tspan dy="-7">=0</tspan></text>
<text x="305.4" y="834.7" font-family="Liberation Sans, sans-serif" font-size="21" font-weight="bold">E=0</text>
<path d="M139.9 870.3V884.0 M136.5 877.2H143.3 M159.8 902.7V919.4 M156.4 911.0H163.2 M197.1 930.9V952.4 M193.7 941.1H200.5 M253.8 941.7V982.4 M250.4 962.4H257.2 M321.5 923.7V1009.8 M318.1 966.7H324.9" stroke="#000" stroke-width="1.8" fill="none"/>
<circle cx="139.9" cy="877.2" r="2.3" fill="#000"/>
<circle cx="159.8" cy="911.0" r="2.3" fill="#000"/>
<circle cx="197.1" cy="941.1" r="2.3" fill="#000"/>
<circle cx="253.8" cy="962.4" r="2.3" fill="#000"/>
<circle cx="321.5" cy="966.7" r="2.3" fill="#000"/>
<polyline points="139.9,877.2 159.8,911.0 197.1,941.1 253.8,962.4 321.5,966.7" fill="none" stroke="#000" stroke-width="3.3" stroke-linejoin="miter"/>
<polyline points="139.9,872.6 159.8,894.5 197.1,915.7 253.8,933.9 321.5,942.8" fill="none" stroke="#ff0000" stroke-width="3.2" stroke-dasharray="4 4" stroke-linejoin="miter"/>
<polyline points="139.9,881.2 159.8,924.9 197.1,965.4 253.8,984.0 321.5,980.0" fill="none" stroke="#ff00ff" stroke-width="3.2" stroke-dasharray="1.45 2.635" stroke-linejoin="miter"/>
<polyline points="139.9,877.0 159.8,905.7 197.1,935.8 253.8,955.0 321.5,960.2" fill="none" stroke="#0000ff" stroke-width="3.2" stroke-dasharray="4.2 5.05 1.3 5.0" stroke-linejoin="miter"/></g>
<g><path d="M497.32 1017.30v-5.90 M497.32 792.90v5.90 M514.15 1017.30v-11.70 M514.15 792.90v11.70 M530.98 1017.30v-5.90 M530.98 792.90v5.90 M547.80 1017.30v-5.90 M547.80 792.90v5.90 M564.62 1017.30v-5.90 M564.62 792.90v5.90 M581.45 1017.30v-11.70 M581.45 792.90v11.70 M598.27 1017.30v-5.90 M598.27 792.90v5.90 M615.10 1017.30v-5.90 M615.10 792.90v5.90 M631.92 1017.30v-5.90 M631.92 792.90v5.90 M648.75 1017.30v-11.70 M648.75 792.90v11.70 M665.58 1017.30v-5.90 M665.58 792.90v5.90 M682.40 1017.30v-5.90 M682.40 792.90v5.90 M699.23 1017.30v-5.90 M699.23 792.90v5.90 M716.05 1017.30v-11.70 M716.05 792.90v11.70 M732.88 1017.30v-5.90 M732.88 792.90v5.90 M480.50 806.92h5.90 M749.70 806.92h-5.90 M480.50 820.95h5.90 M749.70 820.95h-5.90 M480.50 834.98h5.90 M749.70 834.98h-5.90 M480.50 849.00h11.70 M749.70 849.00h-11.70 M480.50 863.02h5.90 M749.70 863.02h-5.90 M480.50 877.05h5.90 M749.70 877.05h-5.90 M480.50 891.08h5.90 M749.70 891.08h-5.90 M480.50 905.10h11.70 M749.70 905.10h-11.70 M480.50 919.12h5.90 M749.70 919.12h-5.90 M480.50 933.15h5.90 M749.70 933.15h-5.90 M480.50 947.17h5.90 M749.70 947.17h-5.90 M480.50 961.20h11.70 M749.70 961.20h-11.70 M480.50 975.23h5.90 M749.70 975.23h-5.90 M480.50 989.25h5.90 M749.70 989.25h-5.90 M480.50 1003.27h5.90 M749.70 1003.27h-5.90" stroke="#000" stroke-opacity="0.62" stroke-width="1" fill="none"/>
<rect x="480.50" y="792.90" width="269.20" height="224.40" fill="none" stroke="#000" stroke-width="2"/>
<text x="466.7" y="800.7" font-family="Liberation Sans, sans-serif" font-size="21.6" font-weight="bold" font-style="italic" text-anchor="end">0.2</text>
<text x="466.7" y="856.8" font-family="Liberation Sans, sans-serif" font-size="21.6" font-weight="bold" font-style="italic" text-anchor="end">0</text>
<text x="466.7" y="912.9" font-family="Liberation Sans, sans-serif" font-size="21.6" font-weight="bold" font-style="italic" text-anchor="end">-0.2</text>
<text x="466.7" y="969.0" font-family="Liberation Sans, sans-serif" font-size="21.6" font-weight="bold" font-style="italic" text-anchor="end">-0.4</text>
<text x="466.7" y="1025.1" font-family="Liberation Sans, sans-serif" font-size="21.6" font-weight="bold" font-style="italic" text-anchor="end">-0.6</text>
<text x="515.5" y="1038.4" font-family="Liberation Sans, sans-serif" font-size="21.6" font-weight="bold" font-style="italic" text-anchor="middle">0</text>
<text x="582.9" y="1038.4" font-family="Liberation Sans, sans-serif" font-size="21.6" font-weight="bold" font-style="italic" text-anchor="middle">0.2</text>
<text x="650.1" y="1038.4" font-family="Liberation Sans, sans-serif" font-size="21.6" font-weight="bold" font-style="italic" text-anchor="middle">0.4</text>
<text x="717.4" y="1038.4" font-family="Liberation Sans, sans-serif" font-size="21.6" font-weight="bold" font-style="italic" text-anchor="middle">0.6</text>
<text x="750.2" y="1065.3" font-family="Liberation Sans, sans-serif" font-size="24" font-weight="bold" text-anchor="end">-t(GeV<tspan font-size="16.5" dy="-11.8">2</tspan><tspan dy="11.8">)</tspan></text>
<text transform="translate(419.2 904.4) rotate(-90)" font-family="Liberation Sans, sans-serif" font-size="25.5" font-weight="bold" textLength="17.2" lengthAdjust="spacingAndGlyphs">A</text>
<text transform="translate(426.8 887.1) rotate(-90)" font-family="Liberation Sans, sans-serif" font-size="18" font-weight="bold" textLength="21.8" lengthAdjust="spacingAndGlyphs">UT</text>
<text transform="translate(407.4 887.9) rotate(-90)" font-family="Liberation Sans, sans-serif" font-size="18" font-weight="bold" textLength="33.2" lengthAdjust="spacingAndGlyphs">cos(</text>
<path fill-rule="evenodd" fill="#000" d="M398.25 849.90a4.85 3.75 0 1 0 9.7 0a4.85 3.75 0 1 0 -9.7 0ZM399.10 849.90a4.0 2.55 0 1 0 8.0 0a4.0 2.55 0 1 0 -8.0 0Z"/><path d="M395.8 849.9H410.4" stroke="#000" stroke-opacity="0.8" stroke-width="0.85"/>
<text transform="translate(407.4 846.0) rotate(-90)" font-family="Liberation Sans, sans-serif" font-size="18" font-weight="bold" textLength="6.6" lengthAdjust="spacingAndGlyphs">-</text>
<path fill-rule="evenodd" fill="#000" d="M398.25 835.70a4.85 3.75 0 1 0 9.7 0a4.85 3.75 0 1 0 -9.7 0ZM399.10 835.70a4.0 2.55 0 1 0 8.0 0a4.0 2.55 0 1 0 -8.0 0Z"/><path d="M395.8 835.7H410.4" stroke="#000" stroke-opacity="0.8" stroke-width="0.85"/>
<text transform="translate(416.0 831.3) rotate(-90)" font-family="Liberation Sans, sans-serif" font-size="15" font-weight="bold" textLength="8.8" lengthAdjust="spacingAndGlyphs">S</text>
<text transform="translate(407.4 822.7) rotate(-90)" font-family="Liberation Sans, sans-serif" font-size="18" font-weight="bold" textLength="30.0" lengthAdjust="spacingAndGlyphs">)sin</text>
<path fill-rule="evenodd" fill="#000" d="M398.25 788.00a4.85 3.75 0 1 0 9.7 0a4.85 3.75 0 1 0 -9.7 0ZM399.10 788.00a4.0 2.55 0 1 0 8.0 0a4.0 2.55 0 1 0 -8.0 0Z"/><path d="M395.8 788.0H410.4" stroke="#000" stroke-opacity="0.8" stroke-width="0.85"/>
<polyline points="500.2,975.2 547.5,975.2" fill="none" stroke="#ff0000" stroke-width="3.2" stroke-dasharray="4 4" stroke-linejoin="miter"/>
<polyline points="500.2,994.7 547.5,994.7" fill="none" stroke="#000" stroke-width="3.3" stroke-linejoin="miter"/>
<polyline points="634.9,975.2 682.1,975.2" fill="none" stroke="#ff00ff" stroke-width="3.2" stroke-dasharray="1.45 2.635" stroke-linejoin="miter"/>
<polyline points="634.9,994.7 682.1,994.7" fill="none" stroke="#0000ff" stroke-width="3.2" stroke-dasharray="4.2 5.05 1.3 5.0" stroke-linejoin="miter"/>
<text x="554.1" y="975.2" font-family="Liberation Sans, sans-serif" font-size="21" font-weight="bold">J<tspan font-size="15" dy="7">u</tspan><tspan dy="-7">=0.4</tspan></text>
<text x="554.1" y="994.5" font-family="Liberation Sans, sans-serif" font-size="21" font-weight="bold">J<tspan font-size="15" dy="7">u</tspan><tspan dy="-7">=0.2</tspan></text>
<text x="688.9" y="974.6" font-family="Liberation Sans, sans-serif" font-size="21" font-weight="bold">J<tspan font-size="15" dy="7">u</tspan><tspan dy="-7">=0</tspan></text>
<text x="689.4" y="994.5" font-family="Liberation Sans, sans-serif" font-size="21" font-weight="bold">E=0</text>
<path d="M524.0 837.2V849.8 M520.6 843.4H527.4 M544.0 836.1V852.4 M540.6 844.2H547.4 M581.1 838.1V859.3 M577.7 848.7H584.5 M638.3 832.2V873.6 M634.9 853.0H641.7 M705.5 814.8V900.7 M702.1 857.3H708.9" stroke="#000" stroke-width="1.8" fill="none"/>
<circle cx="524.0" cy="843.4" r="2.3" fill="#000"/>
<circle cx="544.0" cy="844.2" r="2.3" fill="#000"/>
<circle cx="581.1" cy="848.7" r="2.3" fill="#000"/>
<circle cx="638.3" cy="853.0" r="2.3" fill="#000"/>
<circle cx="705.5" cy="857.3" r="2.3" fill="#000"/>
<polyline points="524.0,843.4 544.0,844.2 581.1,848.7 638.3,853.0 705.5,857.3" fill="none" stroke="#000" stroke-width="3.3" stroke-linejoin="miter"/>
<polyline points="524.0,844.2 544.0,846.8 581.1,850.8 638.3,856.3 705.5,861.0" fill="none" stroke="#ff0000" stroke-width="3.2" stroke-dasharray="4 4" stroke-linejoin="miter"/>
<polyline points="524.0,842.6 544.0,842.8 581.1,846.4 638.3,849.7 705.5,853.7" fill="none" stroke="#ff00ff" stroke-width="3.2" stroke-dasharray="1.45 2.635" stroke-linejoin="miter"/>
<polyline points="524.0,843.3 544.0,844.1 581.1,848.5 638.3,852.8 705.5,857.0" fill="none" stroke="#0000ff" stroke-width="3.2" stroke-dasharray="4.2 5.05 1.3 5.0" stroke-linejoin="miter"/></g>
</svg></body></html>
